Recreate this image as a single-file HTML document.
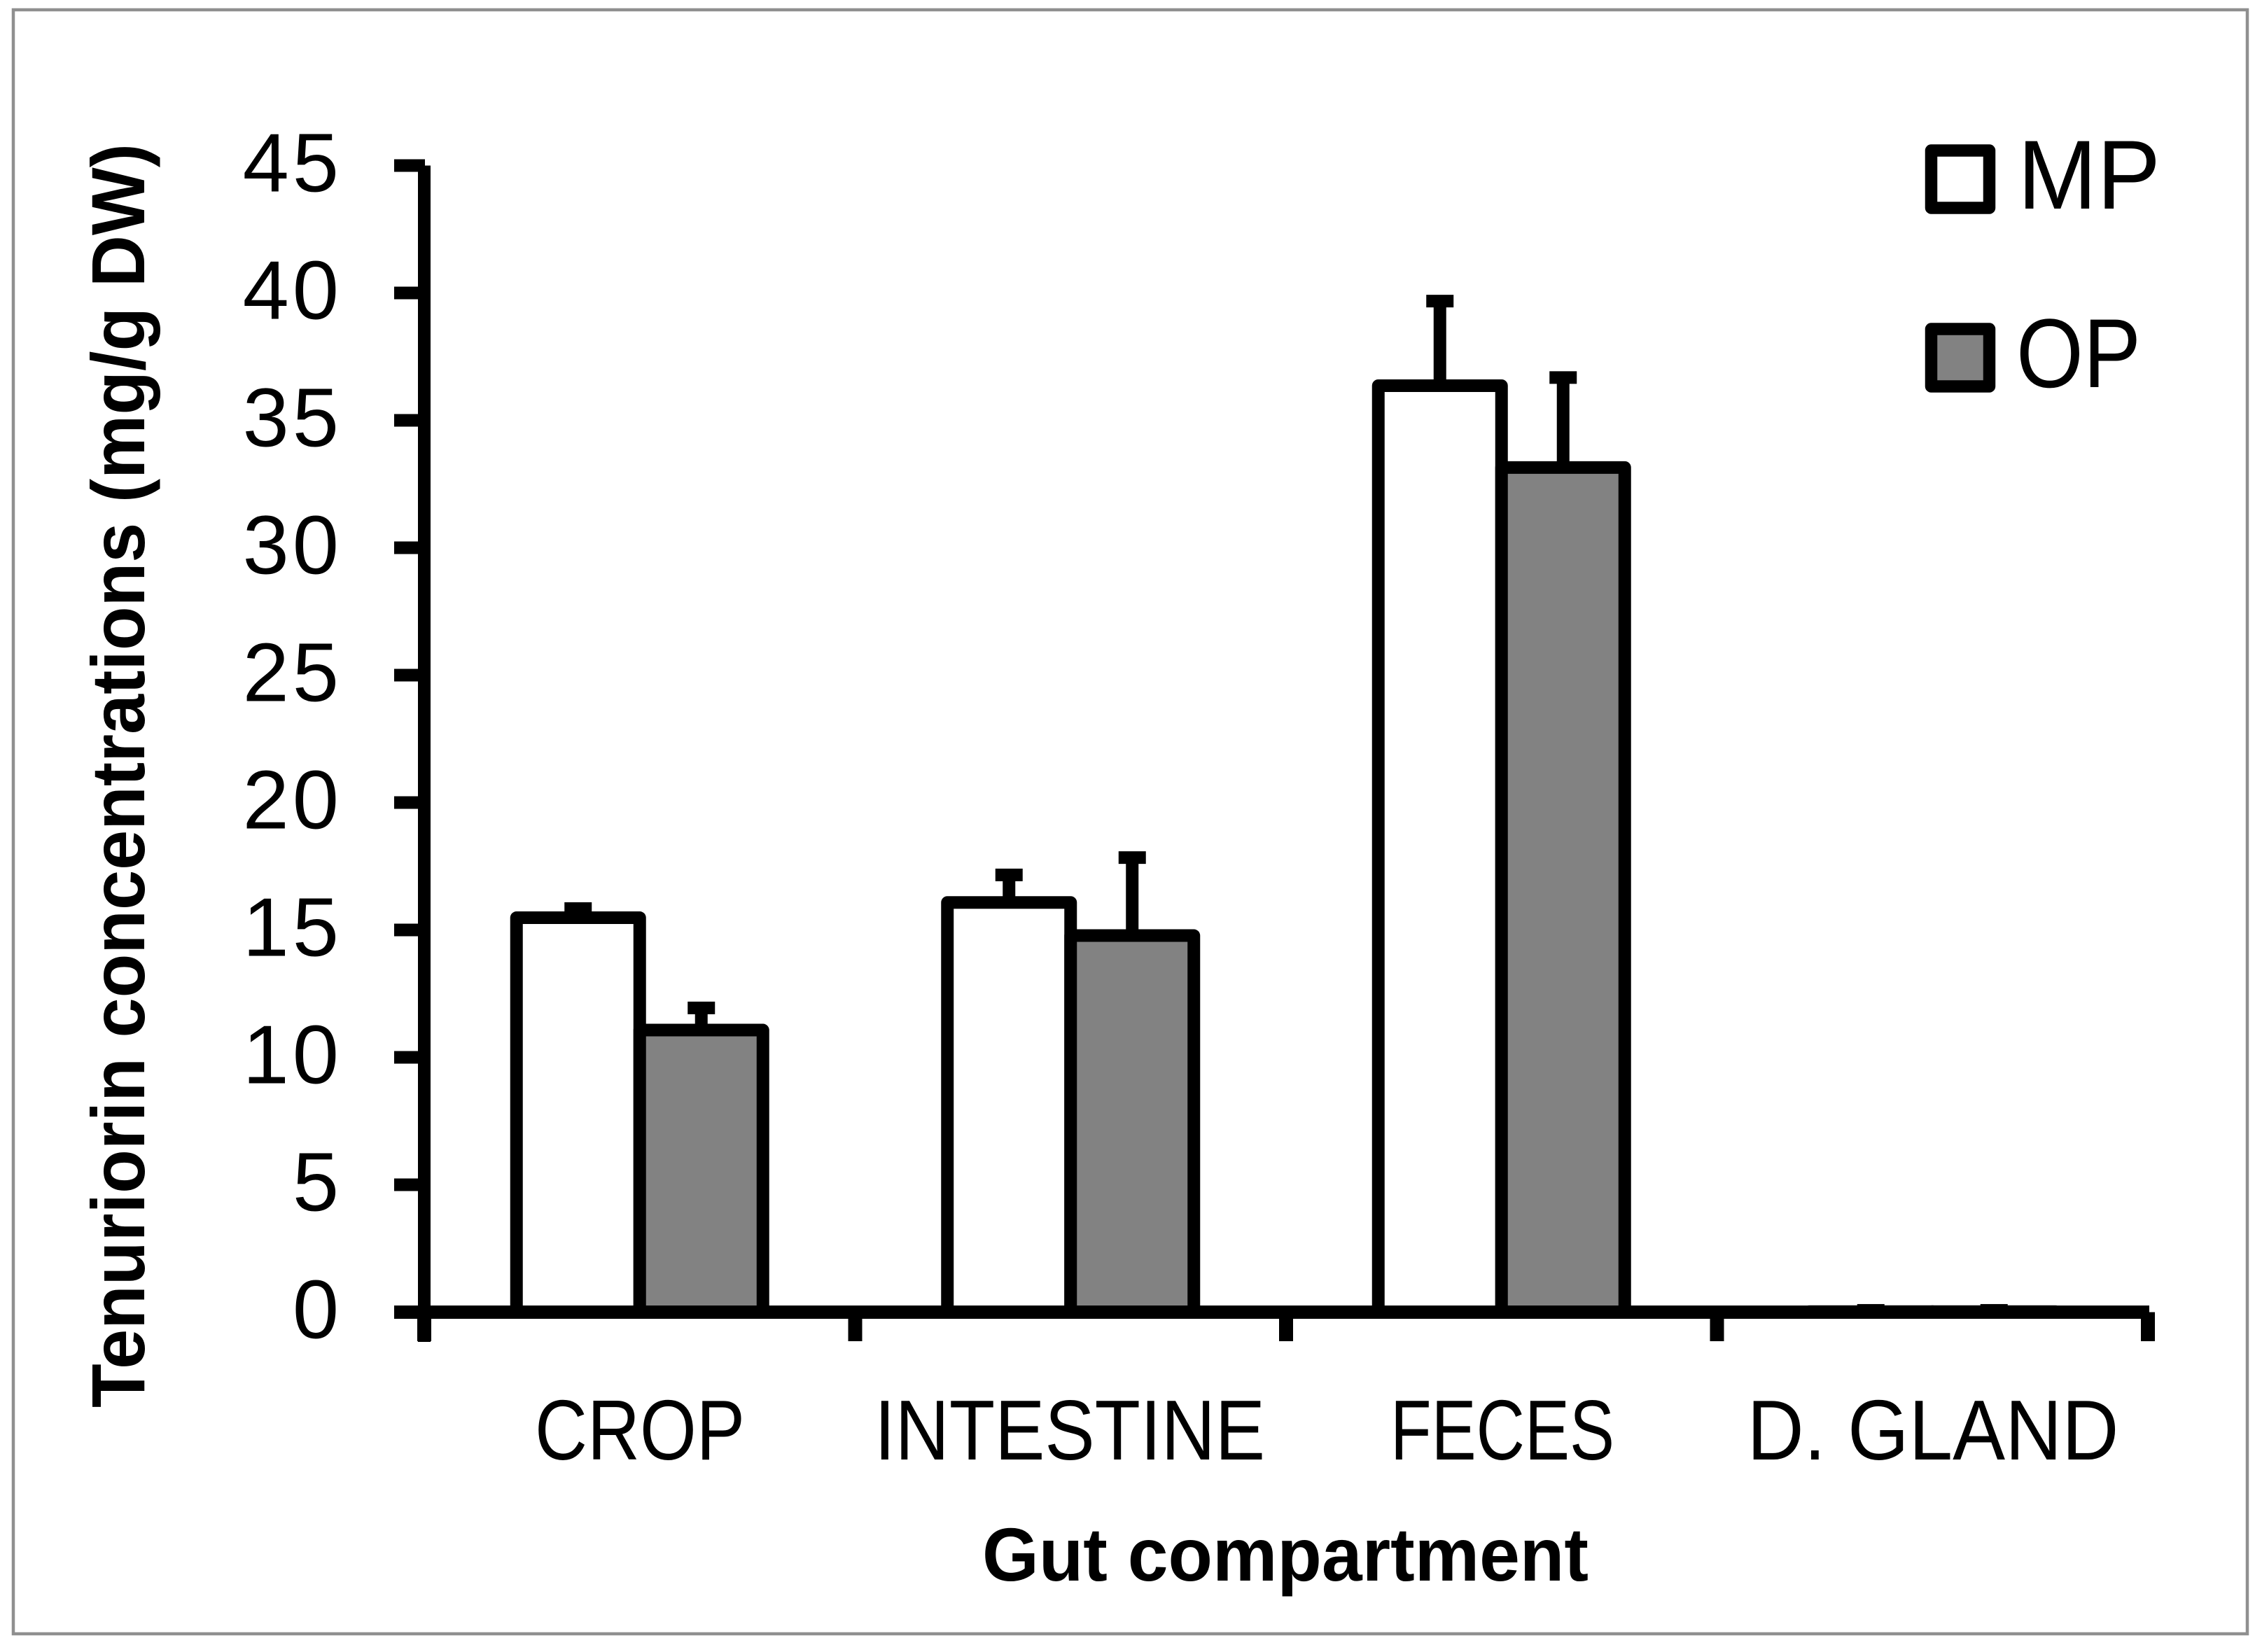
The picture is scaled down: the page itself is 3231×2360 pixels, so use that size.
<!DOCTYPE html>
<html lang="en">
<head>
<meta charset="utf-8">
<title>Tenuriorin concentrations by gut compartment</title>
<style>
  html, body { margin: 0; padding: 0; background: #fff; }
  svg { display: block; }
  text { font-family: "Liberation Sans", sans-serif; fill: #000; }
</style>
</head>
<body>
<svg id="chart" xmlns="http://www.w3.org/2000/svg" width="3231" height="2360" viewBox="0 0 3231 2360">
  <rect x="0" y="0" width="3231" height="2360" fill="#fff"/>
  <rect x="19" y="14" width="3191" height="2320" fill="#fff" stroke="#8f8f8f" stroke-width="4.5"/>
  <g id="bars"></g>
  <g id="axes"></g>
  <text transform="translate(206,1108) rotate(-90)" text-anchor="middle" font-size="108" font-weight="700" textLength="1806" lengthAdjust="spacingAndGlyphs">Tenuriorin concentrations (mg/g DW)</text>
  <text x="1836" y="2258" text-anchor="middle" font-size="108" font-weight="700" textLength="866" lengthAdjust="spacingAndGlyphs">Gut compartment</text>
  <g>
    <g>
      <rect x="2758.5" y="215" width="83" height="82" fill="#fff" stroke="#000" stroke-width="17.5" stroke-linejoin="round"/>
      <text x="2882" y="298" font-size="140" textLength="204" lengthAdjust="spacingAndGlyphs">MP</text>
    </g>
    <g>
      <rect x="2758.5" y="470" width="83" height="82" fill="#828282" stroke="#000" stroke-width="17.5" stroke-linejoin="round"/>
      <text x="2880" y="553" font-size="140" textLength="178" lengthAdjust="spacingAndGlyphs">OP</text>
    </g>
  </g>
</svg>
<script>
const categories = ["CROP", "INTESTINE", "FECES", "D. GLAND"];
const mpValues = [15.48, 16.08, 36.36, 0.02];
const opValues = [11.07, 14.78, 33.15, 0.02];
const mpErrors = [0.36, 1.08, 3.32, 0.05];
const opErrors = [0.87, 3.06, 3.53, 0.05];
const yTickLabels = [0, 5, 10, 15, 20, 25, 30, 35, 40, 45];

const NS = "http://www.w3.org/2000/svg";
const PLOT = { y0: 1874.5, perUnit: 36.4, x0: 606, step: 615.5, barW: 176, stroke: 18, capW: 39, capH: 18 };
const LABEL_LAYOUT = { "CROP": [914, 300], "INTESTINE": [1528, 558], "FECES": [2146, 320], "D. GLAND": [2761, 531] };

function yScale(v) { return PLOT.y0 - v * PLOT.perUnit; }
function bandStart(i) { return PLOT.x0 + i * PLOT.step; }
function bandCenter(i) { return bandStart(i) + PLOT.step / 2; }
function make(tag, attrs, parent) {
  const el = document.createElementNS(NS, tag);
  for (const k in attrs) el.setAttribute(k, attrs[k]);
  parent.appendChild(el);
  return el;
}

const barsLayer = document.getElementById("bars");
const axesLayer = document.getElementById("axes");

function drawSeries(values, errors, seriesName, fill, offset) {
  values.forEach(function (v, i) {
    const left = bandCenter(i) + offset;
    const cx = left + PLOT.barW / 2;
    const top = yScale(v);
    const base = yScale(0);
    const capY = yScale(v + errors[i]);

    const stem = make("rect", { x: cx - PLOT.stroke / 2, y: capY, width: PLOT.stroke, height: Math.max(0, top - capY), fill: "#000" }, barsLayer);
    
    
    const cap = make("rect", { x: cx - PLOT.capW / 2, y: capY - PLOT.capH / 2, width: PLOT.capW, height: PLOT.capH, fill: "#000" }, barsLayer);
    
    

    const bar = make("rect", { x: left, y: top, width: PLOT.barW, height: base - top, fill: fill, stroke: "#000", "stroke-width": PLOT.stroke, "stroke-linejoin": "round" }, barsLayer);
    
    
  });
}
drawSeries(mpValues, mpErrors, "mp", "#fff", -PLOT.barW);
drawSeries(opValues, opErrors, "op", "#828282", 0);

const yAxisLine = make("rect", { x: 597, y: yScale(45), width: 18, height: 1917 - yScale(45), fill: "#000" }, axesLayer);



const xAxisLine = make("rect", { x: 563, y: yScale(0) - 9.5, width: 2507, height: 19, fill: "#000" }, axesLayer);



yTickLabels.forEach(function (t) {
  const y = yScale(t);
  const tick = make("rect", { x: 563, y: y - 9, width: 44, height: 18, fill: "#000" }, axesLayer);
  
  
  const label = make("text", { x: 489, y: y + 37, "text-anchor": "end", "font-size": 119, "letter-spacing": 5 }, axesLayer);
  label.textContent = String(t);
  
  
});

for (let i = 0; i <= categories.length; i++) {
  const tick = make("rect", { x: bandStart(i) - 10, y: yScale(0), width: 20, height: 1916 - yScale(0), fill: "#000" }, axesLayer);
  
  
}

categories.forEach(function (c) {
  const pos = LABEL_LAYOUT[c];
  const label = make("text", { x: pos[0], y: 2085, "text-anchor": "middle", "font-size": 122, textLength: pos[1], lengthAdjust: "spacingAndGlyphs" }, axesLayer);
  label.textContent = c;
  
  
});
</script>
</body>
</html>
